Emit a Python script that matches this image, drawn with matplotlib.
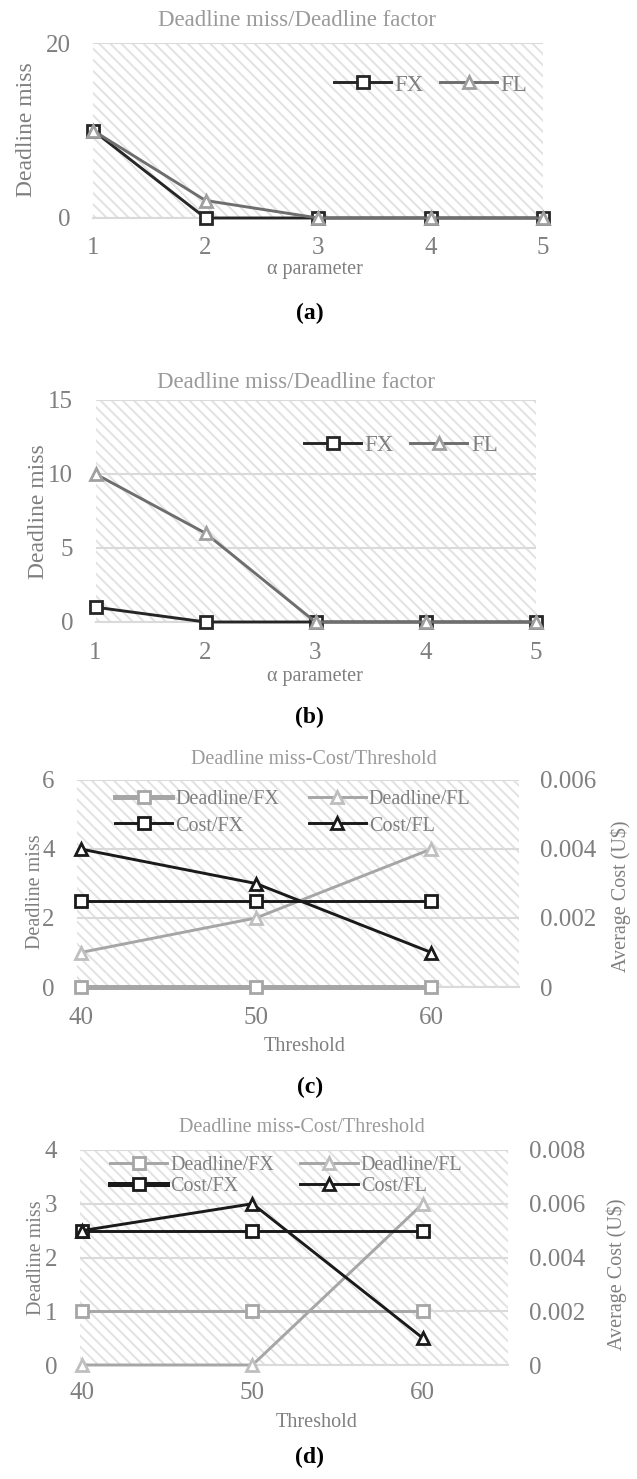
import matplotlib
matplotlib.use('Agg')
import matplotlib.pyplot as plt
from matplotlib.patches import Rectangle

plt.rcParams['font.family'] = 'Liberation Serif'
plt.rcParams['hatch.linewidth'] = 1.4

# alpha sweep, deadline misses
alpha = [1, 2, 3, 4, 5]
miss_a_fx = [10, 0, 0, 0, 0]
miss_a_fl = [10, 2, 0, 0, 0]
miss_b_fx = [1, 0, 0, 0, 0]
miss_b_fl = [10, 6, 0, 0, 0]

# threshold sweep, deadline misses and average cost
threshold = [40, 50, 60]
miss_c_fx = [0, 0, 0]
miss_c_fl = [1, 2, 4]
cost_c_fx = [0.0025, 0.0025, 0.0025]
cost_c_fl = [0.004, 0.003, 0.001]
miss_d_fx = [1, 1, 1]
miss_d_fl = [0, 0, 3]
cost_d_fx = [0.005, 0.005, 0.005]
cost_d_fl = [0.005, 0.006, 0.001]

TXT = '#7f7f7f'
TITLE = '#9a9a9a'
GRID = '#dadada'
W, H = 637, 1479
fig = plt.figure(figsize=(W / 100, H / 100), dpi=100)


def px_axes(x0, x1, y0, y1):
    return fig.add_axes([x0 / W, 1 - y1 / H, (x1 - x0) / W, (y1 - y0) / H])


def fig_text(x, y, s, **kw):
    fig.text(x / W, 1 - y / H, s, ha='center', va='center', **kw)


def style(ax, yticks, xpad):
    ax.add_patch(Rectangle((0, 0), 1, 1, transform=ax.transAxes, facecolor='white',
                           edgecolor='#e2e2e2', lw=0, hatch='\\\\\\', zorder=0))
    for s in ['top', 'left', 'right']:
        ax.spines[s].set_visible(False)
    ax.spines['bottom'].set_color(GRID)
    ax.spines['bottom'].set_linewidth(1.5)
    ax.set_ylim(yticks[0], yticks[-1])
    ax.set_yticks(yticks)
    ax.yaxis.grid(True, color=GRID, lw=1.5)
    ax.set_axisbelow(True)
    ax.tick_params(axis='y', length=0, labelsize=18, labelcolor=TXT, pad=16)
    ax.tick_params(axis='x', length=0, labelsize=18, labelcolor=TXT, pad=xpad)


def twin(ax, ticks, label, coords):
    tw = ax.twinx()
    for s in tw.spines.values():
        s.set_visible(False)
    tw.set_ylim(ticks[0], ticks[-1])
    tw.set_yticks(ticks)
    tw.set_yticklabels([f'{v:g}' for v in ticks])
    tw.tick_params(axis='y', length=0, labelsize=18, labelcolor=TXT, pad=15)
    tw.set_ylabel(label, fontsize=14.5, color=TXT)
    tw.yaxis.set_label_coords(*coords)
    return tw


def line(ax, x, y, color, marker, mec, lw=2.1, mfc='white', zorder=3):
    return ax.plot(x, y, color=color, lw=lw, marker=marker, ms=8, mew=2, mec=mec,
                   mfc=mfc, clip_on=False, zorder=zorder)[0]


# (a)
ax = px_axes(93, 543, 43, 218)
style(ax, [0, 20], 14)
ax.set_xlim(1, 5)
ax.set_xticks(alpha)
h1 = line(ax, alpha, miss_a_fx, '#262626', 's', '#262626')
h2 = line(ax, alpha, miss_a_fl, '#6e6e6e', '^', '#a0a0a0', zorder=4)
ax.legend([h1, h2], ['FX', 'FL'], loc='center left', bbox_to_anchor=(0.5356, 0.76), ncol=2,
          frameon=False, fontsize=16.5, handlelength=2.5, handletextpad=0.15, columnspacing=0.7,
          borderpad=0, borderaxespad=0, labelcolor=TXT)
ax.set_ylabel('Deadline miss', fontsize=17, color=TXT)
ax.yaxis.set_label_coords(-0.124, 0.503)
ax.set_xlabel('α parameter', fontsize=14.5, color=TXT, va='top')
ax.xaxis.set_label_coords(0.493, -0.24)
fig_text(297, 20, 'Deadline miss/Deadline factor', fontsize=16.5, color=TITLE)
fig_text(310, 313, '(a)', fontsize=17, fontweight='bold')

# (b)
ax = px_axes(95.5, 535.5, 400, 622)
style(ax, [0, 5, 10, 15], 14.5)
ax.set_xlim(1, 5)
ax.set_xticks(alpha)
h1 = line(ax, alpha, miss_b_fx, '#262626', 's', '#262626')
h2 = line(ax, alpha, miss_b_fl, '#6e6e6e', '^', '#a0a0a0', zorder=4)
ax.legend([h1, h2], ['FX', 'FL'], loc='center left', bbox_to_anchor=(0.474, 0.793), ncol=2,
          frameon=False, fontsize=16.5, handlelength=2.5, handletextpad=0.15, columnspacing=0.7,
          borderpad=0, borderaxespad=0, labelcolor=TXT)
ax.set_ylabel('Deadline miss', fontsize=17, color=TXT)
ax.yaxis.set_label_coords(-0.106, 0.495)
ax.set_xlabel('α parameter', fontsize=14.5, color=TXT, va='top')
ax.xaxis.set_label_coords(0.499, -0.203)
fig_text(296, 383, 'Deadline miss/Deadline factor', fontsize=16.5, color=TITLE)
fig_text(309, 717, '(b)', fontsize=17, fontweight='bold')

# (c)
ax = px_axes(77, 519, 780, 987)
style(ax, [0, 2, 4, 6], 14.4)
ax.set_xlim(39.8, 65)
ax.set_xticks(threshold)
tw = twin(ax, [0, 0.002, 0.004, 0.006], 'Average Cost (U$)', (1.206, 0.437))
d1 = line(ax, threshold, miss_c_fx, '#a6a6a6', 's', '#a6a6a6', lw=3.6)
d2 = line(ax, threshold, miss_c_fl, '#a6a6a6', '^', '#bfbfbf')
c1 = line(tw, threshold, cost_c_fx, '#1a1a1a', 's', '#1a1a1a')
c2 = line(tw, threshold, cost_c_fl, '#1a1a1a', '^', '#1a1a1a')
tw.legend([d1, c1, d2, c2], ['Deadline/FX', 'Cost/FX', 'Deadline/FL', 'Cost/FL'],
          loc='center left', bbox_to_anchor=(0.086, 0.841), ncol=2, frameon=False,
          fontsize=14.5, handlelength=2.85, handletextpad=0.15, columnspacing=1.45,
          labelspacing=0.35, borderpad=0, borderaxespad=0, labelcolor=TXT)
ax.set_ylabel('Deadline miss', fontsize=14.5, color=TXT)
ax.yaxis.set_label_coords(-0.072, 0.459)
ax.set_xlabel('Threshold', fontsize=14.5, color=TXT, va='top')
ax.xaxis.set_label_coords(0.514, -0.242)
fig_text(314, 760, 'Deadline miss-Cost/Threshold', fontsize=14.5, color=TITLE)
fig_text(310, 1087, '(c)', fontsize=17, fontweight='bold')

# (d)
ax = px_axes(79.6, 508, 1150, 1365)
style(ax, [0, 1, 2, 3, 4], 12.5)
ax.set_xlim(39.85, 65)
ax.set_xticks(threshold)
tw = twin(ax, [0, 0.002, 0.004, 0.006, 0.008], 'Average Cost (U$)', (1.229, 0.421))
d1 = line(ax, threshold, miss_d_fx, '#a6a6a6', 's', '#a6a6a6')
d2 = line(ax, threshold, miss_d_fl, '#a6a6a6', '^', '#bfbfbf')
c1 = line(tw, threshold, cost_d_fx, '#1a1a1a', 's', '#1a1a1a')
c2 = line(tw, threshold, cost_d_fl, '#1a1a1a', '^', '#1a1a1a')
leg = tw.legend([d1, c1, d2, c2], ['Deadline/FX', 'Cost/FX', 'Deadline/FL', 'Cost/FL'],
                loc='center left', bbox_to_anchor=(0.071, 0.881), ncol=2, frameon=False,
                fontsize=14.5, handlelength=2.85, handletextpad=0.15, columnspacing=1.3,
                labelspacing=0.1, borderpad=0, borderaxespad=0, labelcolor=TXT)
leg.get_lines()[1].set_linewidth(3.6)
ax.set_ylabel('Deadline miss', fontsize=14.5, color=TXT)
ax.yaxis.set_label_coords(-0.078, 0.5)
ax.set_xlabel('Threshold', fontsize=14.5, color=TXT, va='top')
ax.xaxis.set_label_coords(0.554, -0.223)
fig_text(302, 1127, 'Deadline miss-Cost/Threshold', fontsize=14.5, color=TITLE)
fig_text(310, 1457, '(d)', fontsize=17, fontweight='bold')

fig.savefig('out.png', dpi=100)
